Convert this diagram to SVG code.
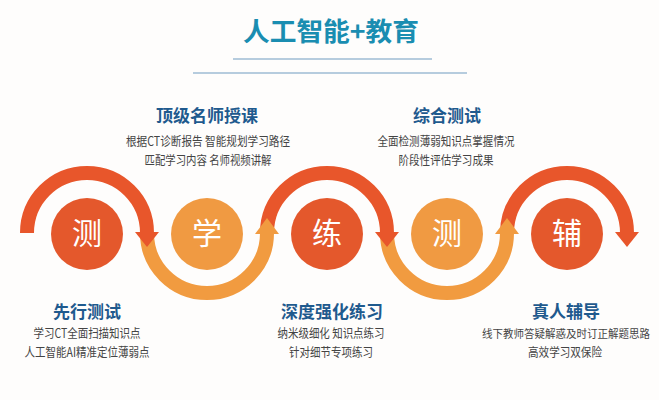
<svg xmlns="http://www.w3.org/2000/svg" width="659" height="400" viewBox="0 0 659 400">
<style>
.title{font-family:"Noto Sans CJK SC","Noto Sans",sans-serif;font-weight:700;font-size:26px;fill:#1a8db1;text-anchor:middle}
.head{font-family:"Noto Sans CJK SC","Noto Sans",sans-serif;font-weight:700;font-size:17px;fill:#1f5a8e;text-anchor:middle}
.body{font-family:"Noto Sans CJK SC","Noto Sans",sans-serif;font-size:12.5px;fill:#444;text-anchor:middle}
.glyph{font-family:"Noto Sans CJK SC","Noto Sans",sans-serif;font-size:30px;fill:#fff;text-anchor:middle}
.rule{stroke:#6f9cc0;stroke-width:1.2}
.red{fill:none;stroke:#e8562b;stroke-width:14}
.org{fill:none;stroke:#f19b40;stroke-width:14}
.redh{fill:#e8562b}
.orgh{fill:#f19b40}
.cr{fill:#e4582c}
.co{fill:#f09a42}
</style>
<rect width="659" height="400" fill="#fefdfc"/>
<g id="header">
<text class="title" x="331" y="41" textLength="176" lengthAdjust="spacingAndGlyphs">人工智能+教育</text>
<line class="rule" x1="233" y1="59" x2="432" y2="59"/>
<line class="rule" x1="193" y1="73" x2="467" y2="73"/>
</g>
<g id="connectors">
<path class="red" d="M507,233 A60,60 0 0 1 627,233"/>
<polygon class="redh" points="615,232 639,232 627,247"/>
<path class="org" d="M387,233 A60,60 0 0 0 507,233"/>
<polygon class="orgh" points="495,234 519,234 507,218"/>
<path class="red" d="M267,233 A60,60 0 0 1 387,233"/>
<polygon class="redh" points="375,232 399,232 387,247"/>
<path class="org" d="M147,233 A60,60 0 0 0 267,233"/>
<polygon class="orgh" points="255,234 279,234 267,218"/>
<path class="red" d="M27,233 A60,60 0 0 1 147,233"/>
<polygon class="redh" points="135,232 159,232 147,247"/>
</g>
<g id="node-ce1">
<circle class="cr" cx="87" cy="234" r="36"/>
<text class="glyph" x="87" y="244">测</text>
</g>
<g id="node-xue">
<circle class="co" cx="207" cy="234" r="36"/>
<text class="glyph" x="207" y="244">学</text>
</g>
<g id="node-lian">
<circle class="cr" cx="327" cy="234" r="36"/>
<text class="glyph" x="327" y="244">练</text>
</g>
<g id="node-ce2">
<circle class="co" cx="447" cy="234" r="36"/>
<text class="glyph" x="447" y="244">测</text>
</g>
<g id="node-fu">
<circle class="cr" cx="567" cy="234" r="36"/>
<text class="glyph" x="567" y="244">辅</text>
</g>
<g id="label-ce1">
<text class="head" x="87" y="318">先行测试</text>
<text class="body" x="87" y="338" textLength="107" lengthAdjust="spacingAndGlyphs">学习CT全面扫描知识点</text>
<text class="body" x="87" y="357" textLength="125" lengthAdjust="spacingAndGlyphs">人工智能AI精准定位薄弱点</text>
</g>
<g id="label-xue">
<text class="head" x="207" y="122">顶级名师授课</text>
<text class="body" x="208" y="146" textLength="164" lengthAdjust="spacingAndGlyphs">根据CT诊断报告 智能规划学习路径</text>
<text class="body" x="208" y="165" textLength="127" lengthAdjust="spacingAndGlyphs">匹配学习内容 名师视频讲解</text>
</g>
<g id="label-lian">
<text class="head" x="332" y="318">深度强化练习</text>
<text class="body" x="331" y="338" textLength="107" lengthAdjust="spacingAndGlyphs">纳米级细化 知识点练习</text>
<text class="body" x="331" y="357" textLength="84" lengthAdjust="spacingAndGlyphs">针对细节专项练习</text>
</g>
<g id="label-ce2">
<text class="head" x="447" y="122">综合测试</text>
<text class="body" x="446" y="146" textLength="137" lengthAdjust="spacingAndGlyphs">全面检测薄弱知识点掌握情况</text>
<text class="body" x="446" y="165" textLength="95" lengthAdjust="spacingAndGlyphs">阶段性评估学习成果</text>
</g>
<g id="label-fu">
<text class="head" x="566" y="318">真人辅导</text>
<text class="body" x="566" y="338" style="font-size:11px" textLength="168" lengthAdjust="spacingAndGlyphs">线下教师答疑解惑及时订正解题思路</text>
<text class="body" x="565" y="357" textLength="74" lengthAdjust="spacingAndGlyphs">高效学习双保险</text>
</g>
</svg>
